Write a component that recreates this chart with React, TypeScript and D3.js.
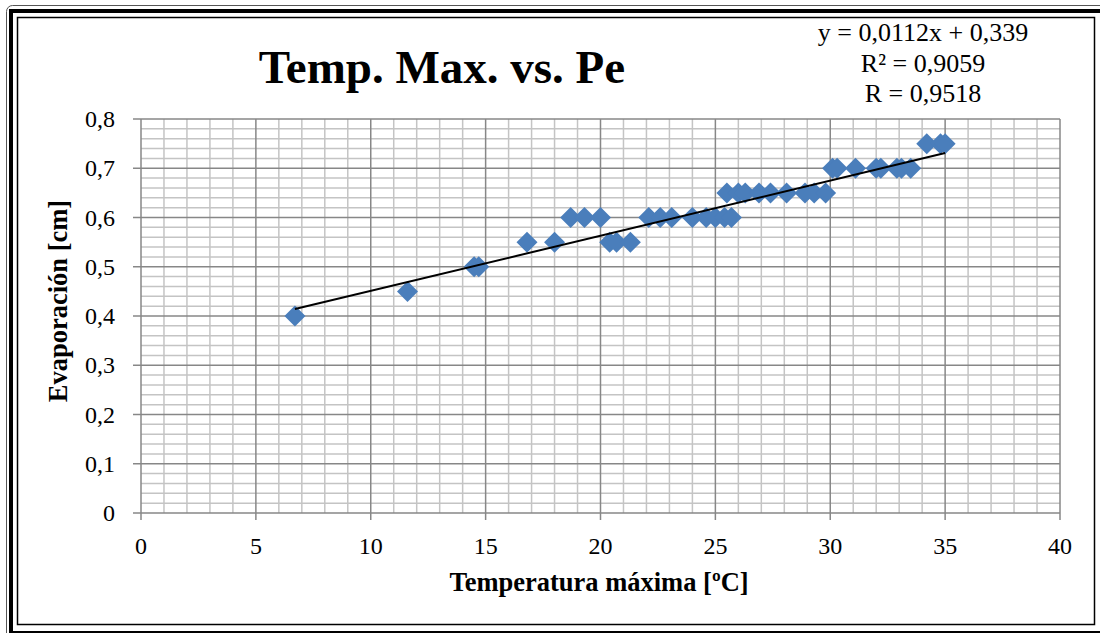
import React from 'react'
import * as d3 from 'd3'

// daily max temperature (ºC) and pan evaporation (cm)
const tempMax = [
  6.7, 11.6, 14.5, 14.7, 16.8, 18.0, 18.7, 19.3, 20.0, 20.4, 20.7, 21.3,
  22.1, 22.6, 23.1, 24.0, 24.6, 25.0, 25.4, 25.7,
  25.5, 26.0, 26.3, 26.9, 27.4, 28.1, 28.9, 29.3, 29.8,
  30.1, 30.3, 31.1, 32.0, 32.2, 32.9, 33.1, 33.5,
  34.2, 34.8, 35.0
]
const evaporation = [
  0.40, 0.45, 0.50, 0.50, 0.55, 0.55, 0.60, 0.60, 0.60, 0.55, 0.55, 0.55,
  0.60, 0.60, 0.60, 0.60, 0.60, 0.60, 0.60, 0.60,
  0.65, 0.65, 0.65, 0.65, 0.65, 0.65, 0.65, 0.65, 0.65,
  0.70, 0.70, 0.70, 0.70, 0.70, 0.70, 0.70, 0.70,
  0.75, 0.75, 0.75
]
const xTicks = [0, 5, 10, 15, 20, 25, 30, 35, 40]
const yTicks = [0, 0.1, 0.2, 0.3, 0.4, 0.5, 0.6, 0.7, 0.8]
const slope = 0.0112
const intercept = 0.339
const equationLines = ['y = 0,0112x + 0,339', 'R² = 0,9059', 'R = 0,9518']

const W = 1100
const H = 633
const left = 141
const right = 1060
const top = 119
const bottom = 513
const serif = '"Liberation Serif", "Times New Roman", serif'

export default function App() {
  const x = d3.scaleLinear().domain([0, 40]).range([left, right])
  const y = d3.scaleLinear().domain([0, 0.8]).range([bottom, top])

  const minorX = d3.range(0, 41, 1).filter(v => v % 5 !== 0)
  const minorY = d3.range(0, 81, 2).filter(v => v % 10 !== 0).map(v => v / 100)

  const pts = tempMax.map((t, i) => ({ t, e: evaporation[i] }))
  const xMin = d3.min(tempMax) as number
  const xMax = d3.max(tempMax) as number
  const trend = d3.line<number>().x(v => x(v)).y(v => y(slope * v + intercept))

  const fmt = (v: number) => (v === 0 ? '0' : d3.format('.1f')(v).replace('.', ','))
  const diamond = 10.5

  return (
    <svg
      width={W}
      height={H}
      style={{ position: 'absolute', left: 0, top: 0, background: '#fff' }}
      fontFamily={serif}
    >
      {/* frame */}
      <rect x={6.5} y={5.5} width={1105} height={640} rx={6} fill="none" stroke="#555" strokeWidth={1} />
      <rect x={11} y={11} width={1092} height={622} fill="none" stroke="#000" strokeWidth={4} />
      <rect x={17.5} y={17.5} width={1077} height={607} fill="#fff" stroke="#000" strokeWidth={1.5} />

      {/* minor grid */}
      {minorX.map(v => (
        <line key={'mx' + v} x1={x(v)} x2={x(v)} y1={top} y2={bottom} stroke="#c4c4c4" strokeWidth={1.5} />
      ))}
      {minorY.map(v => (
        <line key={'my' + v} x1={left} x2={right} y1={y(v)} y2={y(v)} stroke="#c4c4c4" strokeWidth={1.5} />
      ))}
      {/* major grid + ticks */}
      {xTicks.map(v => (
        <line key={'gx' + v} x1={x(v)} x2={x(v)} y1={top} y2={bottom + 7} stroke="#878787" strokeWidth={1.5} />
      ))}
      {yTicks.map(v => (
        <line key={'gy' + v} x1={left - 8} x2={right} y1={y(v)} y2={y(v)} stroke="#878787" strokeWidth={1.5} />
      ))}

      {/* tick labels */}
      {xTicks.map(v => (
        <text key={'tx' + v} x={x(v)} y={bottom + 41} textAnchor="middle" fontSize={24}>
          {v}
        </text>
      ))}
      {yTicks.map(v => (
        <text key={'ty' + v} x={115} y={y(v) + 8} textAnchor="end" fontSize={24}>
          {fmt(v)}
        </text>
      ))}

      {/* points */}
      {pts.map((p, i) => (
        <rect
          key={i}
          x={-diamond / Math.SQRT2}
          y={-diamond / Math.SQRT2}
          width={(diamond * 2) / Math.SQRT2}
          height={(diamond * 2) / Math.SQRT2}
          transform={`translate(${x(p.t)},${y(p.e)}) rotate(45)`}
          fill="#4a7ebb"
        />
      ))}

      {/* trend line */}
      <path d={trend([xMin, xMax]) || ''} fill="none" stroke="#000" strokeWidth={2} />

      {/* titles */}
      <text x={442} y={83} textAnchor="middle" fontSize={47} fontWeight="bold">
        Temp. Max. vs. Pe
      </text>
      {equationLines.map((s, i) => (
        <text key={s} x={923} y={41 + i * 30.5} textAnchor="middle" fontSize={26}>
          {s}
        </text>
      ))}
      <text x={599} y={591} textAnchor="middle" fontSize={26.5} fontWeight="bold">
        Temperatura máxima [ºC]
      </text>
      <text
        transform={`translate(67,301) rotate(-90)`}
        textAnchor="middle"
        fontSize={26.5}
        fontWeight="bold"
      >
        Evaporación [cm]
      </text>
    </svg>
  )
}
